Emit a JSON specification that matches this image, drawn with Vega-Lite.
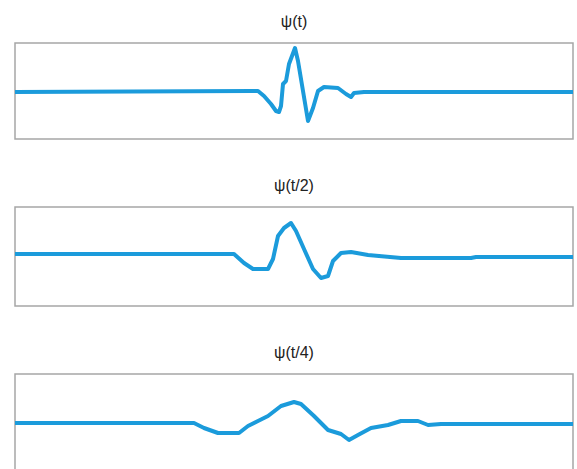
{
  "$schema": "https://vega.github.io/schema/vega-lite/v6.json",
  "padding": {"left": 14, "top": 13, "right": 5, "bottom": 0},
  "spacing": 37,
  "datasets": {
    "p1": [
      {"t": 0, "v": 0}, {"t": 236, "v": 1}, {"t": 243, "v": 1}, {"t": 249, "v": -4}, {"t": 256, "v": -12},
      {"t": 261, "v": -19}, {"t": 264, "v": -20}, {"t": 266, "v": -14}, {"t": 268, "v": 8}, {"t": 271, "v": 11},
      {"t": 274, "v": 28}, {"t": 280, "v": 44}, {"t": 283, "v": 31}, {"t": 288, "v": 1}, {"t": 293, "v": -29},
      {"t": 298, "v": -16}, {"t": 303, "v": 1}, {"t": 309, "v": 5}, {"t": 323, "v": 4}, {"t": 331, "v": -2},
      {"t": 336, "v": -5}, {"t": 339, "v": -1}, {"t": 349, "v": 0}, {"t": 558, "v": 0}
    ],
    "p2": [
      {"t": 0, "v": 0}, {"t": 219, "v": 0}, {"t": 229, "v": -9}, {"t": 238, "v": -15}, {"t": 253, "v": -15},
      {"t": 258, "v": -5}, {"t": 263, "v": 18}, {"t": 269, "v": 26}, {"t": 276, "v": 31}, {"t": 281, "v": 23},
      {"t": 289, "v": 5}, {"t": 298, "v": -15}, {"t": 306, "v": -24}, {"t": 313, "v": -22}, {"t": 318, "v": -7},
      {"t": 326, "v": 1}, {"t": 336, "v": 2}, {"t": 353, "v": -1}, {"t": 386, "v": -4}, {"t": 456, "v": -4},
      {"t": 461, "v": -3}, {"t": 558, "v": -3}
    ],
    "p3": [
      {"t": 0, "v": 0}, {"t": 179, "v": 0}, {"t": 189, "v": -5}, {"t": 203, "v": -10}, {"t": 224, "v": -10},
      {"t": 233, "v": -3}, {"t": 243, "v": 2}, {"t": 253, "v": 7}, {"t": 266, "v": 17}, {"t": 279, "v": 21},
      {"t": 286, "v": 19}, {"t": 299, "v": 7}, {"t": 313, "v": -7}, {"t": 326, "v": -11}, {"t": 334, "v": -17},
      {"t": 343, "v": -12}, {"t": 356, "v": -5}, {"t": 373, "v": -2}, {"t": 386, "v": 2}, {"t": 403, "v": 2},
      {"t": 413, "v": -2}, {"t": 426, "v": -1}, {"t": 558, "v": -1}
    ]
  },
  "vconcat": [
    {
      "title": "ψ(t)",
      "width": 558, "height": 96,
      "data": {"name": "p1"},
      "mark": {"type": "line", "color": "#1b9bdb", "strokeWidth": 4, "strokeJoin": "round", "strokeCap": "round", "clip": true},
      "encoding": {
        "x": {"field": "t", "type": "quantitative", "axis": null, "scale": {"domain": [0, 558], "nice": false, "zero": false}},
        "y": {"field": "v", "type": "quantitative", "axis": null, "scale": {"domain": [-47, 49], "nice": false, "zero": false}}
      }
    },
    {
      "title": "ψ(t/2)",
      "width": 558, "height": 99,
      "data": {"name": "p2"},
      "mark": {"type": "line", "color": "#1b9bdb", "strokeWidth": 4, "strokeJoin": "round", "strokeCap": "round", "clip": true},
      "encoding": {
        "x": {"field": "t", "type": "quantitative", "axis": null, "scale": {"domain": [0, 558], "nice": false, "zero": false}},
        "y": {"field": "v", "type": "quantitative", "axis": null, "scale": {"domain": [-52, 47], "nice": false, "zero": false}}
      }
    },
    {
      "title": "ψ(t/4)",
      "width": 558, "height": 98,
      "data": {"name": "p3"},
      "mark": {"type": "line", "color": "#1b9bdb", "strokeWidth": 4, "strokeJoin": "round", "strokeCap": "round", "clip": true},
      "encoding": {
        "x": {"field": "t", "type": "quantitative", "axis": null, "scale": {"domain": [0, 558], "nice": false, "zero": false}},
        "y": {"field": "v", "type": "quantitative", "axis": null, "scale": {"domain": [-49, 49], "nice": false, "zero": false}}
      }
    }
  ],
  "config": {
    "view": {"stroke": "#a6a6a6", "strokeWidth": 1.5},
    "title": {"fontSize": 16, "font": "Liberation Sans", "fontWeight": "normal", "color": "#222222", "offset": 13, "anchor": "middle"}
  }
}
